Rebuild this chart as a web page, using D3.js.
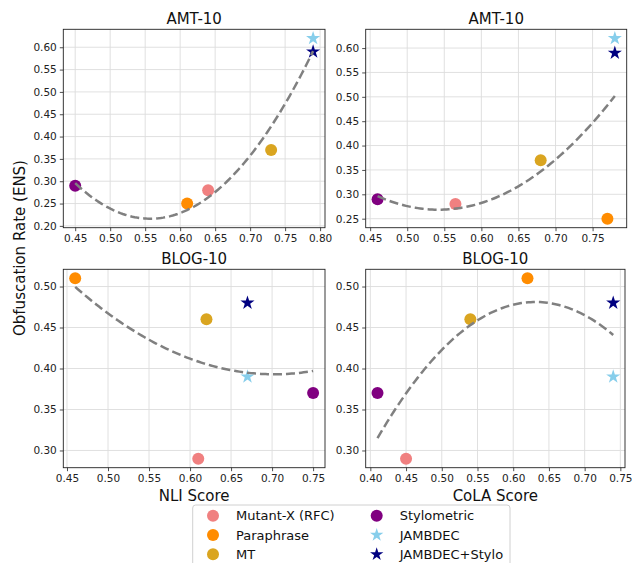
<!DOCTYPE html>
<html><head><meta charset="utf-8">
<script src="https://cdn.jsdelivr.net/npm/d3@7"></script>
<style>body{margin:0;background:#fff;} svg{display:block;font-family:"DejaVu Sans",sans-serif;}</style>
</head><body>
<svg id="c" width="632" height="563"></svg>
<script>
const methods = ["Mutant-X (RFC)","Paraphrase","MT","Stylometric","JAMBDEC","JAMBDEC+Stylo"];
const markerKind = ["circle","circle","circle","circle","star","star"];
const amtNli  = [0.64, 0.61, 0.73, 0.45, 0.79, 0.79];
const amtCola = [0.565,0.77, 0.68, 0.46, 0.78, 0.78];
const amtObf  = [0.28, 0.25, 0.37, 0.29, 0.62, 0.59];
const blogNli = [0.61, 0.46, 0.62, 0.75, 0.67, 0.67];
const blogCola= [0.45, 0.62, 0.54, 0.41, 0.74, 0.74];
const blogObf = [0.29, 0.51, 0.46, 0.37, 0.39, 0.48];
const xTicksTL = [0.45,0.50,0.55,0.60,0.65,0.70,0.75,0.80];
const xTicksTR = [0.45,0.50,0.55,0.60,0.65,0.70,0.75];
const xTicksBL = [0.45,0.50,0.55,0.60,0.65,0.70,0.75];
const xTicksBR = [0.40,0.45,0.50,0.55,0.60,0.65,0.70,0.75];
const yTicksTL = [0.20,0.25,0.30,0.35,0.40,0.45,0.50,0.55,0.60];
const yTicksTR = [0.25,0.30,0.35,0.40,0.45,0.50,0.55,0.60];
const yTicksB  = [0.30,0.35,0.40,0.45,0.50];

const colors = ["#F08080","#FF8C00","#DAA520","#800080","#87CEEB","#000080"];

function polyfit2(xs, ys){
  let S=[0,0,0,0,0], T=[0,0,0];
  xs.forEach((x,i)=>{const y=ys[i]; let p=1; for(let k=0;k<5;k++){S[k]+=p; if(k<3)T[k]+=p*y; p*=x;}});
  const A=[[S[0],S[1],S[2],T[0]],[S[1],S[2],S[3],T[1]],[S[2],S[3],S[4],T[2]]];
  for(let i=0;i<3;i++){
    let m=i; for(let r=i+1;r<3;r++) if(Math.abs(A[r][i])>Math.abs(A[m][i])) m=r;
    [A[i],A[m]]=[A[m],A[i]];
    for(let r=0;r<3;r++){ if(r===i) continue; const f=A[r][i]/A[i][i]; for(let c=i;c<4;c++) A[r][c]-=f*A[i][c]; }
  }
  const c=[A[0][3]/A[0][0],A[1][3]/A[1][1],A[2][3]/A[2][2]];
  return x=>c[0]+c[1]*x+c[2]*x*x;
}

const svg = d3.select("#c");
const panels = [
  {xs:amtNli, ys:amtObf, title:"AMT-10", box:[63.3,325,29.3,227.7], xt:xTicksTL, yt:yTicksTL, xlabel:null},
  {xs:amtCola, ys:amtObf, title:"AMT-10", box:[365.7,626.7,29.3,227.7], xt:xTicksTR, yt:yTicksTR, xlabel:null},
  {xs:blogNli, ys:blogObf, title:"BLOG-10", box:[63.3,325,269.3,467.7], xt:xTicksBL, yt:yTicksB, xlabel:"NLI Score"},
  {xs:blogCola, ys:blogObf, title:"BLOG-10", box:[365.7,625,269.3,467.7], xt:xTicksBR, yt:yTicksB, xlabel:"CoLA Score"}
];

const star = d3.symbol().type(d3.symbolStar).size(62);
const starL = d3.symbol().type(d3.symbolStar).size(55);

panels.forEach(p=>{
  const [L,R,T,B]=p.box;
  const f = polyfit2(p.xs,p.ys);
  const x0=d3.min(p.xs), x1=d3.max(p.xs);
  const curve = d3.range(0,101).map(i=>{const x=x0+(x1-x0)*i/100; return [x,f(x)];});
  const allY = p.ys.concat(curve.map(d=>d[1]));
  const ymin=d3.min(allY), ymax=d3.max(allY), yr=ymax-ymin;
  const xr=x1-x0;
  const x=d3.scaleLinear().domain([x0-0.05*xr,x1+0.05*xr]).range([L,R]);
  const y=d3.scaleLinear().domain([ymin-0.05*yr,ymax+0.05*yr]).range([B,T]);
  const g=svg.append("g");
  g.append("g").selectAll("line").data(p.xt).join("line")
    .attr("x1",d=>x(d)).attr("x2",d=>x(d)).attr("y1",T).attr("y2",B)
    .attr("stroke","#dcdcdc").attr("stroke-width",0.9);
  g.append("g").selectAll("line").data(p.yt).join("line")
    .attr("y1",d=>y(d)).attr("y2",d=>y(d)).attr("x1",L).attr("x2",R)
    .attr("stroke","#dcdcdc").attr("stroke-width",0.9);
  const xa=g.append("g").attr("transform",`translate(0,${B})`)
    .call(d3.axisBottom(x).tickValues(p.xt).tickFormat(d3.format(".2f")).tickSize(3.5).tickPadding(3));
  const ya=g.append("g").attr("transform",`translate(${L},0)`)
    .call(d3.axisLeft(y).tickValues(p.yt).tickFormat(d3.format(".2f")).tickSize(3.5).tickPadding(3));
  [xa,ya].forEach(a=>{a.select(".domain").remove(); a.selectAll("text").attr("font-size",10.5).attr("fill","#222").attr("font-family","DejaVu Sans"); a.selectAll("line").attr("stroke","#222").attr("stroke-width",0.8);});
  p.xs.forEach((xv,i)=>{
    if(markerKind[i]==="circle"){
      g.append("circle").attr("cx",x(xv)).attr("cy",y(p.ys[i])).attr("r",6).attr("fill",colors[i]);
    } else {
      g.append("path").attr("d",star).attr("transform",`translate(${x(xv)},${y(p.ys[i])})`).attr("fill",colors[i]);
    }
  });
  g.append("path").datum(curve).attr("d",d3.line().x(d=>x(d[0])).y(d=>y(d[1])))
    .attr("fill","none").attr("stroke","#808080").attr("stroke-width",2.5).attr("stroke-dasharray","9,4");
  g.append("rect").attr("x",L).attr("y",T).attr("width",R-L).attr("height",B-T)
    .attr("fill","none").attr("stroke","#222").attr("stroke-width",0.9);
  g.append("text").attr("x",(L+R)/2).attr("y",T-5).attr("text-anchor","middle")
    .attr("font-size",15).attr("fill","#111").text(p.title);
  if(p.xlabel) g.append("text").attr("x",(L+R)/2).attr("y",B+33).attr("text-anchor","middle")
    .attr("font-size",15).attr("fill","#111").text(p.xlabel);
});

svg.append("text").attr("transform","translate(25,248) rotate(-90)").attr("text-anchor","middle")
  .attr("font-size",15).attr("fill","#111").text("Obfuscation Rate (ENS)");

const lg=svg.append("g");
lg.append("rect").attr("x",192.7).attr("y",505).attr("width",317.3).attr("height",70).attr("rx",3)
  .attr("fill","#fff").attr("stroke","#d0d0d0").attr("stroke-width",1);
methods.forEach((m,i)=>{
  const col=Math.floor(i/3), row=i%3;
  const mx=col===0?213:376.7, ty=515.7+row*19.3;
  if(markerKind[i]==="circle") lg.append("circle").attr("cx",mx).attr("cy",ty).attr("r",6).attr("fill",colors[i]);
  else lg.append("path").attr("d",starL).attr("transform",`translate(${mx},${ty})`).attr("fill",colors[i]);
  lg.append("text").attr("x",mx+23).attr("y",ty+4.5).attr("font-size",13).attr("fill","#111").text(m);
});
</script>
</body></html>
